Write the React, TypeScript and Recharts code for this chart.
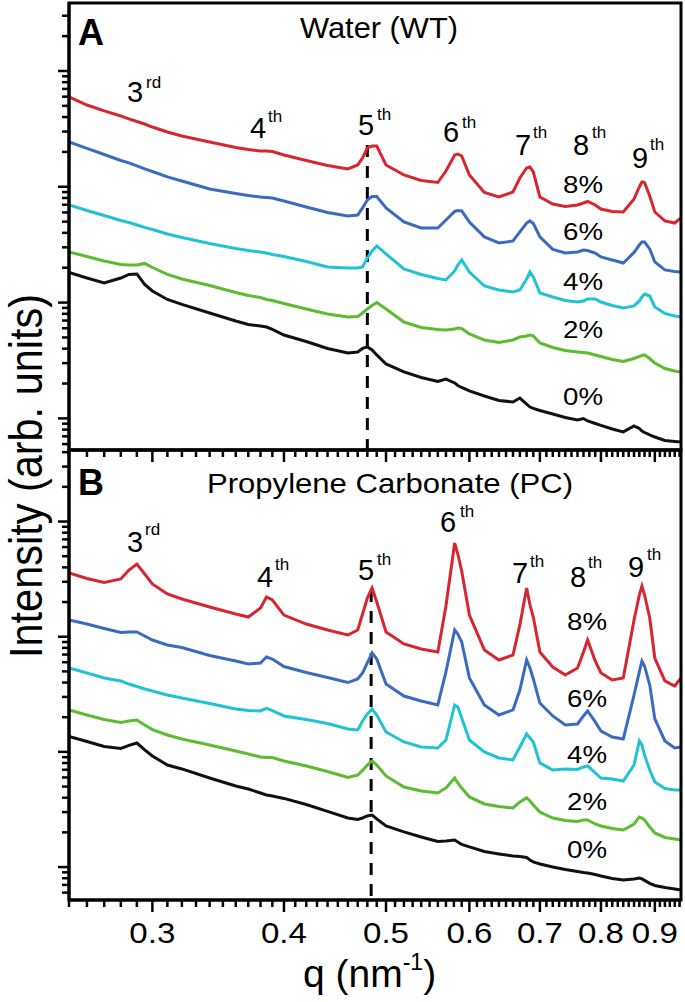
import React from "react";
import { LineChart, Line, XAxis, YAxis, ReferenceLine } from "recharts";

// q (nm^-1) sampling shared by every curve
const qGrid = [0.25, 0.26, 0.27, 0.28, 0.285, 0.29, 0.295, 0.3, 0.31, 0.32, 0.34, 0.36, 0.37, 0.38, 0.385, 0.39, 0.4, 0.42, 0.44, 0.46, 0.47, 0.475, 0.48, 0.485, 0.49, 0.5, 0.52, 0.54, 0.56, 0.57, 0.581, 0.585, 0.59, 0.6, 0.62, 0.64, 0.66, 0.67, 0.68, 0.685, 0.69, 0.7, 0.72, 0.74, 0.76, 0.77, 0.777, 0.79, 0.8, 0.82, 0.84, 0.86, 0.87, 0.875, 0.88, 0.89, 0.9, 0.92, 0.94, 0.953];

// intensities are stored as log10(I), arb. units, offset per curve as in the figure
// panel A: water
const wt8 = [3.776, 3.706, 3.655, 3.611, 3.586, 3.564, 3.542, 3.516, 3.473, 3.439, 3.387, 3.339, 3.322, 3.309, 3.309, 3.305, 3.275, 3.227, 3.184, 3.154, 3.188, 3.249, 3.335, 3.352, 3.352, 3.188, 3.102, 3.054, 3.037, 3.136, 3.275, 3.283, 3.266, 3.102, 2.951, 2.912, 2.955, 3.076, 3.162, 3.171, 3.128, 2.912, 2.851, 2.83, 2.843, 2.86, 2.873, 2.843, 2.808, 2.787, 2.782, 2.895, 2.998, 3.042, 3.037, 2.921, 2.782, 2.705, 2.687, 2.731];
const wt6 = [3.387, 3.331, 3.279, 3.227, 3.206, 3.18, 3.154, 3.132, 3.085, 3.05, 2.981, 2.942, 2.925, 2.912, 2.908, 2.903, 2.877, 2.826, 2.778, 2.748, 2.756, 2.817, 2.886, 2.916, 2.916, 2.817, 2.696, 2.644, 2.644, 2.713, 2.787, 2.795, 2.791, 2.696, 2.567, 2.515, 2.532, 2.61, 2.687, 2.705, 2.683, 2.567, 2.459, 2.428, 2.437, 2.454, 2.45, 2.428, 2.394, 2.368, 2.342, 2.433, 2.497, 2.523, 2.523, 2.463, 2.351, 2.282, 2.269, 2.264];
const wt4 = [2.843, 2.795, 2.752, 2.709, 2.692, 2.67, 2.649, 2.631, 2.592, 2.562, 2.51, 2.467, 2.45, 2.437, 2.428, 2.415, 2.398, 2.355, 2.307, 2.299, 2.299, 2.307, 2.385, 2.446, 2.489, 2.42, 2.29, 2.243, 2.208, 2.195, 2.273, 2.325, 2.368, 2.264, 2.143, 2.109, 2.092, 2.109, 2.204, 2.264, 2.221, 2.083, 2.048, 2.018, 2.005, 2.014, 2.031, 2.031, 2.005, 1.975, 1.953, 1.971, 2.014, 2.048, 2.074, 2.057, 1.962, 1.906, 1.884, 1.876];
const wt2 = [2.437, 2.398, 2.359, 2.329, 2.325, 2.325, 2.338, 2.303, 2.243, 2.204, 2.148, 2.087, 2.061, 2.044, 2.027, 2.018, 1.992, 1.945, 1.902, 1.876, 1.88, 1.91, 1.945, 1.975, 2.001, 1.945, 1.832, 1.785, 1.768, 1.763, 1.772, 1.781, 1.776, 1.729, 1.677, 1.655, 1.677, 1.703, 1.712, 1.72, 1.712, 1.651, 1.612, 1.586, 1.573, 1.569, 1.565, 1.548, 1.535, 1.509, 1.491, 1.517, 1.535, 1.543, 1.548, 1.517, 1.478, 1.431, 1.409, 1.401];
const wt0 = [2.26, 2.212, 2.169, 2.212, 2.243, 2.247, 2.156, 2.1, 2.027, 1.984, 1.91, 1.841, 1.811, 1.798, 1.789, 1.768, 1.72, 1.664, 1.604, 1.565, 1.573, 1.604, 1.617, 1.591, 1.548, 1.47, 1.401, 1.353, 1.319, 1.34, 1.306, 1.284, 1.267, 1.237, 1.193, 1.155, 1.142, 1.176, 1.124, 1.098, 1.086, 1.068, 1.038, 1.008, 0.986, 0.999, 0.978, 0.956, 0.939, 0.908, 0.883, 0.934, 0.913, 0.891, 0.878, 0.857, 0.839, 0.809, 0.801, 0.796];

// panel B: propylene carbonate
const pc8 = [3.553, 3.505, 3.471, 3.501, 3.579, 3.631, 3.544, 3.458, 3.371, 3.327, 3.258, 3.197, 3.171, 3.249, 3.345, 3.319, 3.188, 3.11, 3.058, 3.015, 3.058, 3.197, 3.336, 3.423, 3.301, 3.041, 2.937, 2.893, 2.867, 3.266, 3.813, 3.718, 3.57, 3.188, 2.885, 2.798, 2.841, 3.102, 3.423, 3.275, 3.171, 2.867, 2.737, 2.668, 2.728, 2.867, 2.971, 2.789, 2.685, 2.624, 2.642, 3.145, 3.362, 3.44, 3.362, 3.162, 2.815, 2.616, 2.572, 2.642];
const pc6 = [3.145, 3.11, 3.071, 3.036, 3.041, 3.041, 3.006, 2.971, 2.928, 2.906, 2.837, 2.789, 2.763, 2.772, 2.824, 2.806, 2.741, 2.689, 2.646, 2.602, 2.633, 2.685, 2.772, 2.859, 2.806, 2.589, 2.485, 2.442, 2.407, 2.694, 3.058, 3.024, 2.954, 2.642, 2.407, 2.32, 2.364, 2.537, 2.798, 2.728, 2.633, 2.424, 2.312, 2.234, 2.242, 2.312, 2.355, 2.26, 2.181, 2.129, 2.112, 2.494, 2.694, 2.789, 2.746, 2.581, 2.286, 2.095, 2.034, 2.043];
const pc4 = [2.728, 2.685, 2.642, 2.616, 2.589, 2.568, 2.546, 2.529, 2.494, 2.468, 2.42, 2.372, 2.359, 2.355, 2.377, 2.359, 2.312, 2.281, 2.247, 2.199, 2.19, 2.268, 2.329, 2.372, 2.32, 2.173, 2.086, 2.043, 2.034, 2.103, 2.407, 2.39, 2.294, 2.103, 1.999, 1.947, 1.93, 2.043, 2.155, 2.121, 2.086, 1.904, 1.843, 1.852, 1.847, 1.869, 1.878, 1.817, 1.773, 1.765, 1.747, 1.886, 2.095, 2.06, 1.973, 1.843, 1.739, 1.682, 1.669, 1.669];
const pc2 = [2.364, 2.32, 2.281, 2.255, 2.268, 2.277, 2.234, 2.194, 2.147, 2.112, 2.06, 2.008, 1.982, 1.956, 1.951, 1.951, 1.921, 1.878, 1.83, 1.778, 1.799, 1.839, 1.886, 1.921, 1.886, 1.791, 1.695, 1.661, 1.643, 1.687, 1.773, 1.73, 1.687, 1.609, 1.548, 1.526, 1.513, 1.565, 1.6, 1.574, 1.539, 1.478, 1.426, 1.405, 1.396, 1.409, 1.409, 1.374, 1.357, 1.335, 1.322, 1.374, 1.435, 1.426, 1.409, 1.348, 1.296, 1.257, 1.244, 1.235];
const pc0 = [2.134, 2.09, 2.047, 2.03, 2.056, 2.077, 2.017, 1.964, 1.886, 1.852, 1.773, 1.704, 1.678, 1.643, 1.626, 1.617, 1.596, 1.543, 1.483, 1.426, 1.413, 1.426, 1.444, 1.452, 1.418, 1.357, 1.305, 1.261, 1.222, 1.227, 1.235, 1.218, 1.196, 1.175, 1.135, 1.114, 1.096, 1.092, 1.083, 1.062, 1.044, 1.027, 1.001, 0.979, 0.962, 0.953, 0.949, 0.936, 0.923, 0.901, 0.888, 0.897, 0.905, 0.897, 0.884, 0.858, 0.84, 0.823, 0.81, 0.801];

const xLabels = [0.3, 0.4, 0.5, 0.6, 0.7, 0.8, 0.9];
const ordinals = ["3", "4", "5", "6", "7", "8", "9"];
const suffixes = ["rd", "th", "th", "th", "th", "th", "th"];
const pctLabels = ["8%", "6%", "4%", "2%", "0%"];

const keys = ["c0", "c2", "c4", "c6", "c8"];
const COLORS: Record<string, string> = {
  c8: "#d7262f",
  c6: "#3a6bc0",
  c4: "#1fc3d3",
  c2: "#5cbb31",
  c0: "#111111",
};

const FONT = "'Liberation Sans', Arial, Helvetica, sans-serif";

const makeRows = (c8: number[], c6: number[], c4: number[], c2: number[], c0: number[]) =>
  qGrid.map((q, i) => ({ q, c8: c8[i], c6: c6[i], c4: c4[i], c2: c2[i], c0: c0[i] }));

const rowsA = makeRows(wt8, wt6, wt4, wt2, wt0);
const rowsB = makeRows(pc8, pc6, pc4, pc2, pc0);

// minor ticks every 0.01
const xTicks = Array.from({ length: 71 }, (_, i) => (25 + i) / 100);

const logTicks = (lo: number, hi: number) => {
  const out: number[] = [];
  for (let n = 0; n <= 4; n++) {
    for (let k = 1; k <= 9; k++) {
      const v = n + Math.log10(k);
      if (v >= lo && v <= hi) out.push(v);
    }
  }
  return out;
};

const XTick = (props: any) => {
  const { x, y, payload, showLabel } = props;
  const v = payload.value;
  const major = Math.round(v * 100) % 10 === 0;
  return (
    <g>
      <line x1={x} x2={x} y1={y} y2={y + (major ? 12 : 7)} stroke="#000" strokeWidth={2.5} />
      {showLabel && major && (
        <text x={x} y={y + 43} textAnchor="middle" fontSize={30} fontFamily={FONT} fill="#000"
          textLength={46} lengthAdjust="spacingAndGlyphs">
          {v.toFixed(1)}
        </text>
      )}
    </g>
  );
};

const YTick = (props: any) => {
  const { x, y, payload } = props;
  const v = payload.value;
  const major = Math.abs(v - Math.round(v)) < 1e-9;
  return <line x1={x - (major ? 11 : 7)} x2={x} y1={y} y2={y} stroke="#000" strokeWidth={2.5} />;
};

type PanelProps = {
  rows: any[];
  top: number;
  height: number;
  marginTop: number;
  axisHeight: number;
  yDomain: [number, number];
  dashQ: number;
  dashTop: number;
  showLabels: boolean;
};

const Panel = ({ rows, top, height, marginTop, axisHeight, yDomain, dashQ, dashTop, showLabels }: PanelProps) => (
  <div style={{ position: "absolute", left: 0, top }}>
    <LineChart width={685} height={height} data={rows} margin={{ top: marginTop, right: 4, bottom: 0, left: 0 }}>
      <XAxis dataKey="q" type="number" scale="log" domain={[0.25, 0.953]} allowDataOverflow
        ticks={xTicks} interval={0} tickSize={0} tickMargin={0} tickLine={false}
        axisLine={{ stroke: "#000", strokeWidth: 3 }} height={axisHeight}
        tick={(p: any) => <XTick {...p} showLabel={showLabels} />} />
      <YAxis type="number" domain={yDomain} allowDataOverflow ticks={logTicks(yDomain[0], yDomain[1])}
        interval={0} tickSize={0} tickMargin={0} tickLine={false}
        axisLine={{ stroke: "#000", strokeWidth: 3 }} width={69}
        tick={(p: any) => <YTick {...p} />} />
      <ReferenceLine segment={[{ x: dashQ, y: dashTop }, { x: dashQ, y: yDomain[0] }]}
        stroke="#000" strokeWidth={3} strokeDasharray="12 9" />
      {keys.map((k) => (
        <Line key={k} dataKey={k} type="linear" stroke={COLORS[k]} strokeWidth={3}
          dot={false} isAnimationActive={false} />
      ))}
    </LineChart>
  </div>
);

const Txt = ({ x, y, size, w, bold, children }: any) => (
  <text x={x} y={y} fontSize={size} fontFamily={FONT} fontWeight={bold ? "bold" : "normal"} fill="#000"
    textLength={w} lengthAdjust={w ? "spacingAndGlyphs" : undefined}>
    {children}
  </text>
);

// label positions (digit x, digit baseline, suffix x, suffix baseline)
const ordPosA = [[127, 102, 146, 88], [250, 138, 268, 122], [358, 135, 377, 120], [443, 142, 462, 128], [515, 155, 533, 138], [573, 155, 592, 138], [632, 168, 650, 150]];
const ordPosB = [[127, 552, 145, 535], [257, 587, 275, 570], [358, 580, 377, 565], [440, 532, 460, 517], [512, 583, 530, 567], [570, 587, 588, 568], [628, 577, 647, 560]];
const pctPosA = [[563, 193], [563, 240], [563, 290], [563, 338], [563, 405]];
const pctPosB = [[567, 630], [567, 707], [567, 763], [567, 810], [567, 858]];

const Overlay = () => (
  <svg width={685} height={1002} style={{ position: "absolute", left: 0, top: 0, pointerEvents: "none" }}>
    <rect x={69} y={3} width={612} height={447} fill="none" stroke="#000" strokeWidth={3} />
    <rect x={69} y={450} width={612} height={450} fill="none" stroke="#000" strokeWidth={3} />
    <Txt x={78} y={45} size={36} bold>A</Txt>
    <Txt x={300} y={38} size={30} w={158}>Water (WT)</Txt>
    <Txt x={78} y={495} size={36} bold>B</Txt>
    <Txt x={207} y={493} size={28} w={366}>Propylene Carbonate (PC)</Txt>
    {ordPosA.map((p, i) => (
      <g key={`oa${i}`}>
        <Txt x={p[0]} y={p[1]} size={29}>{ordinals[i]}</Txt>
        <Txt x={p[2]} y={p[3]} size={17}>{suffixes[i]}</Txt>
      </g>
    ))}
    {ordPosB.map((p, i) => (
      <g key={`ob${i}`}>
        <Txt x={p[0]} y={p[1]} size={29}>{ordinals[i]}</Txt>
        <Txt x={p[2]} y={p[3]} size={17}>{suffixes[i]}</Txt>
      </g>
    ))}
    {pctPosA.map((p, i) => (
      <Txt key={`pa${i}`} x={p[0]} y={p[1]} size={23} w={40}>{pctLabels[i]}</Txt>
    ))}
    {pctPosB.map((p, i) => (
      <Txt key={`pb${i}`} x={p[0]} y={p[1]} size={23} w={40}>{pctLabels[i]}</Txt>
    ))}
    <text x={303} y={987} fontSize={39} fontFamily={FONT} fill="#000">
      q (nm<tspan dy={-17} fontSize={23}>-1</tspan><tspan dy={17}>)</tspan>
    </text>
    <text transform="translate(42, 476) rotate(-90)" textAnchor="middle" fontSize={47} fontFamily={FONT}
      fill="#000" textLength={364} lengthAdjust="spacingAndGlyphs">
      Intensity (arb. units)
    </text>
  </svg>
);

export default function App() {
  return (
    <div style={{ position: "absolute", left: 0, top: 0, width: 685, height: 1002, background: "#fff" }}>
      <Panel rows={rowsA} top={0} height={470} marginTop={3} axisHeight={20} yDomain={[0.727, 4.587]}
        dashQ={0.48} dashTop={3.361} showLabels={false} />
      <Panel rows={rowsB} top={450} height={552} marginTop={0} axisHeight={102} yDomain={[0.714, 4.621]}
        dashQ={0.484} dashTop={3.405} showLabels={true} />
      <Overlay />
    </div>
  );
}
